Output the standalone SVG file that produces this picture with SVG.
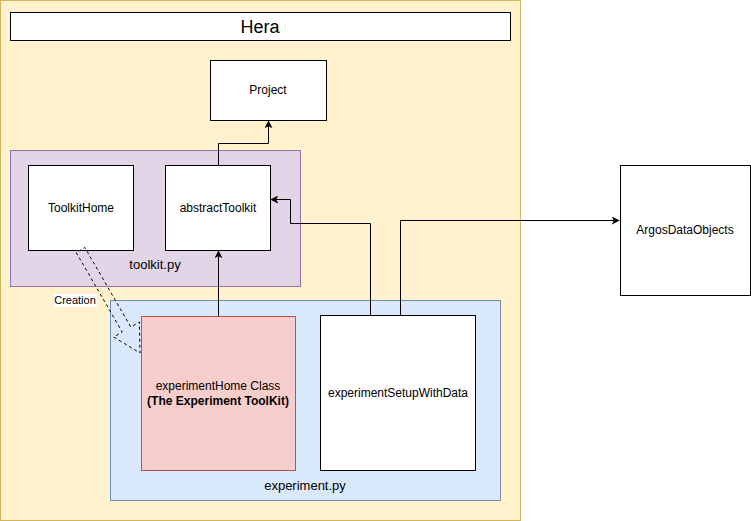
<svg xmlns="http://www.w3.org/2000/svg" width="751" height="521" viewBox="0 0 751 521">
<style>
text{font-family:"Liberation Sans",Arial,Helvetica,sans-serif;fill:#000;text-anchor:middle}
.box{fill:#fff;stroke:#000;stroke-width:1}
.lbl{font-size:12px}
.edge{fill:none;stroke:#000;stroke-width:1}
</style>
<defs>
<marker id="arr" viewBox="0 0 10 10" refX="9" refY="5" markerWidth="8" markerHeight="8" markerUnits="userSpaceOnUse" orient="auto">
<path d="M0,0 L10,5 L0,10 L2.5,5 Z" fill="#000"/>
</marker>
</defs>
<g id="hera">
<rect x="0.5" y="0.5" width="520" height="520" fill="#fff2cc" stroke="#d6b656"/>
</g>
<g id="title">
<rect class="box" x="10.5" y="12.5" width="500" height="28"/>
<text x="260" y="33" font-size="18">Hera</text>
</g>
<g id="project">
<rect class="box" x="210.5" y="60.5" width="116" height="60"/>
<text class="lbl" x="268" y="94">Project</text>
</g>
<g id="toolkitpy">
<rect x="10.5" y="150.5" width="290" height="136" fill="#e1d5e7" stroke="#9673a6"/>
<text x="155" y="269" font-size="13">toolkit.py</text>
</g>
<g id="toolkitHome">
<rect class="box" x="28.5" y="165.5" width="105" height="85"/>
<text class="lbl" x="81" y="212">ToolkitHome</text>
</g>
<g id="abstractToolkit">
<rect class="box" x="165.5" y="165.5" width="105" height="85"/>
<text class="lbl" x="218" y="212">abstractToolkit</text>
</g>
<g id="experimentpy">
<rect x="110.5" y="300.5" width="390" height="200" fill="#dae8fc" stroke="#6c8ebf"/>
<text x="305" y="490" font-size="13">experiment.py</text>
</g>
<g id="experimentHome">
<rect x="141.5" y="316.5" width="154" height="154" fill="#f8cecc" stroke="#b85450"/>
<text class="lbl" x="218" y="390">experimentHome Class</text>
<text class="lbl" x="218" y="405" font-weight="bold">(The Experiment ToolKit)</text>
</g>
<g id="experimentSetupWithData">
<rect class="box" x="320.5" y="315.5" width="155" height="155"/>
<text class="lbl" x="398" y="397">experimentSetupWithData</text>
</g>
<g id="argos">
<rect class="box" x="620.5" y="165.5" width="130" height="130"/>
<text class="lbl" x="685" y="234">ArgosDataObjects</text>
</g>
<g id="connectors">
<path class="edge" d="M218.5,165 L218.5,143.5 L268.5,143.5 L268.5,121" marker-end="url(#arr)"/>
<path class="edge" d="M218.5,316 L218.5,251" marker-end="url(#arr)"/>
<path class="edge" d="M370.5,315 L370.5,223.5 L290.5,223.5 L290.5,199.5 L271,199.5" marker-end="url(#arr)"/>
<path class="edge" d="M400.5,315 L400.5,220.5 L619,220.5" marker-end="url(#arr)"/>
<polygon points="76.2,252.5 122.2,332 113.6,337 140,353 139.4,322 130.8,327 84.8,247.5" fill="none" stroke="#000" stroke-dasharray="3,3"/>
<rect x="54" y="294" width="43" height="13" fill="#fff"/>
<text x="75" y="304" font-size="11">Creation</text>
</g>
</svg>
